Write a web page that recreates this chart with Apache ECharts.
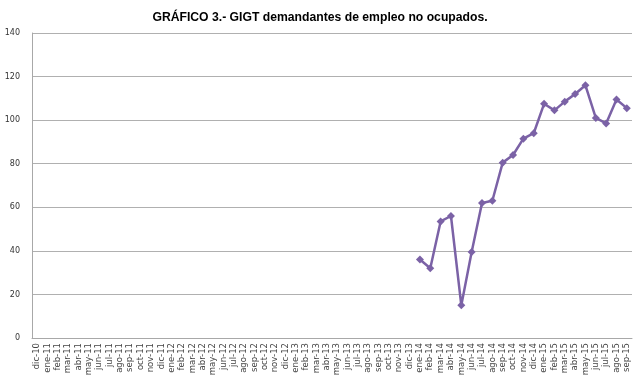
<!DOCTYPE html>
<html><head><meta charset="utf-8">
<script src="https://cdn.jsdelivr.net/npm/echarts@6/dist/echarts.min.js"></script>
<style>html,body{margin:0;padding:0;background:#fff}#c{width:640px;height:382px}</style>
</head><body><div id="c"></div>
<script>
const categories = ['dic-10',
 'ene-11','feb-11','mar-11','abr-11','may-11','jun-11','jul-11','ago-11','sep-11','oct-11','nov-11','dic-11',
 'ene-12','feb-12','mar-12','abr-12','may-12','jun-12','jul-12','ago-12','sep-12','oct-12','nov-12','dic-12',
 'ene-13','feb-13','mar-13','abr-13','may-13','jun-13','jul-13','ago-13','sep-13','oct-13','nov-13','dic-13',
 'ene-14','feb-14','mar-14','abr-14','may-14','jun-14','jul-14','ago-14','sep-14','oct-14','nov-14','dic-14',
 'ene-15','feb-15','mar-15','abr-15','may-15','jun-15','jul-15','ago-15','sep-15'];
const emptyMonths = 37; // dic-10 .. dic-13 without data
const values2014_2015 = [36, 32, 53.5, 56, 15, 39.5, 62, 63, 80.5, 84, 91.5, 94,
                         107.5, 104.5, 108.5, 112, 116, 101, 98.5, 109.5, 105.5];
const seriesData = new Array(emptyMonths).fill(null).concat(values2014_2015);
const yTicks = [0, 20, 40, 60, 80, 100, 120, 140];

const chart = echarts.init(document.getElementById('c'));
chart.setOption({
  animation: false,
  title: {
    text: 'GRÁFICO 3.- GIGT demandantes de empleo no ocupados.',
    left: 'center', top: 7,
    textStyle: {fontFamily: 'Liberation Sans, Arial', fontSize: 12.2, fontWeight: 'bold', color: '#000'}
  },
  grid: {left: 32, right: 8, top: 33, bottom: 44},
  xAxis: {
    type: 'category', data: categories, boundaryGap: true,
    axisLine: {lineStyle: {color: '#a8a8a8'}},
    axisTick: {show: false},
    axisLabel: {rotate: 90, interval: 0, fontFamily: 'DejaVu Sans', fontSize: 8.5, color: '#444', margin: 5}
  },
  yAxis: {
    type: 'value', min: yTicks[0], max: yTicks[yTicks.length-1], interval: 20,
    axisLine: {show: true, lineStyle: {color: '#a8a8a8'}},
    axisTick: {show: false},
    splitLine: {lineStyle: {color: '#b0b0b0'}},
    axisLabel: {fontFamily: 'DejaVu Sans', fontSize: 8, color: '#333', margin: 12}
  },
  series: [{
    type: 'line', data: seriesData, connectNulls: false,
    symbol: 'diamond', symbolSize: 8, showAllSymbol: true,
    lineStyle: {color: '#7b62a6', width: 2.5},
    itemStyle: {color: '#7b62a6'}
  }]
});
</script></body></html>
